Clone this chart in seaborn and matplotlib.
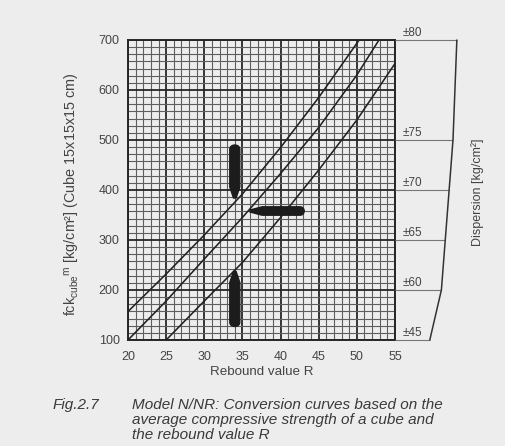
import numpy as np
import pandas as pd
import matplotlib
matplotlib.use("Agg")
import matplotlib.pyplot as plt
import seaborn as sns

# ---------------- data ----------------
rebound_upper = [20, 25, 30, 35, 40, 45, 50.3]
strength_upper = [157, 232, 310, 392, 485, 585, 700]

rebound_middle = [20, 25, 30, 35, 40, 45, 50, 52.9]
strength_middle = [100, 178, 262, 345, 433, 525, 630, 700]

rebound_lower = [25, 30, 35, 40, 45, 50, 55]
strength_lower = [100, 178, 255, 345, 440, 540, 653]

x_ticks = [20, 25, 30, 35, 40, 45, 50, 55]
y_ticks = [100, 200, 300, 400, 500, 600, 700]

dispersion_levels = [700, 500, 400, 300, 200, 100]
dispersion_values = [80, 75, 70, 65, 60, 45]
dispersion_labels = ["±80", "±75", "±70", "±65", "±60", "±45"]

# reading pointers: vertical (rebound, tip strength, end strength)
pointer_vertical_R = [34, 34]
pointer_vertical_tip = [384, 237]
pointer_vertical_end = [490, 127]
# horizontal (strength, tip rebound, end rebound)
pointer_horizontal_f = [358]
pointer_horizontal_tip = [36.0]
pointer_horizontal_end = [43.1]

caption_num = "Fig.2.7"
caption_lines = ["Model N/NR: Conversion curves based on the",
                 "average compressive strength of a cube and",
                 "the rebound value R"]

# ---------------- style ----------------
sns.set_style("white")
BG = "#ededed"
plt.rcParams["font.family"] = ["Liberation Sans", "DejaVu Sans"]
plt.rcParams["mathtext.fontset"] = "custom"
plt.rcParams["mathtext.rm"] = "Liberation Sans"
plt.rcParams["mathtext.it"] = "Liberation Sans:italic"
TXT = "#3a3a3a"
LBL = "#444444"

W, H = 505, 446
fig = plt.figure(figsize=(W / 100, H / 100), dpi=100, facecolor=BG)

L, R_, T, B = 128, 395, 40, 340
ax = fig.add_axes([L / W, 1 - B / H, (R_ - L) / W, (B - T) / H])
ax.set_facecolor(BG)

df = pd.concat([
    pd.DataFrame({"R": rebound_upper, "fck": strength_upper, "curve": "upper"}),
    pd.DataFrame({"R": rebound_middle, "fck": strength_middle, "curve": "middle"}),
    pd.DataFrame({"R": rebound_lower, "fck": strength_lower, "curve": "lower"}),
])
sns.lineplot(data=df, x="R", y="fck", hue="curve", units="curve", estimator=None,
             sort=False, palette={"upper": "#222222", "middle": "#222222", "lower": "#222222"},
             linewidth=1.15, legend=False, ax=ax, zorder=3)

ax.set_xlim(20, 55)
ax.set_ylim(100, 700)
ax.set_xticks(x_ticks)
ax.set_yticks(y_ticks)
ax.set_xticks(np.arange(20, 56, 1), minor=True)
ax.set_yticks(np.linspace(100, 700, 43), minor=True)
ax.grid(which="minor", color="#5e5e5e", linewidth=0.8)
ax.grid(which="major", color="#262626", linewidth=1.3)
ax.set_axisbelow(True)
for s in ax.spines.values():
    s.set_color("#262626")
    s.set_linewidth(1.4)
ax.tick_params(which="both", length=0, labelsize=9, labelcolor=LBL)
ax.tick_params(axis="y", pad=6)
ax.tick_params(axis="x", pad=8)

ax.set_xlabel("Rebound value R", fontsize=9.6, color=LBL)
ax.xaxis.set_label_coords((261.5 - L) / (R_ - L), (B - 366) / (B - T))
ax.set_ylabel(r"fck$_{\mathrm{cube}}{}^{\mathrm{m}}$ [kg/cm²] (Cube 15x15x15 cm)",
              fontsize=10.4, color=LBL)
ax.yaxis.set_label_coords((82 - L) / (R_ - L), (B - 194) / (B - T))

# pointers
rpp = 35 / (R_ - L)       # rebound units per pixel
fpp = 600 / (B - T)       # strength units per pixel


def vertical_pointer(x0, tip, end):
    d = 1 if end > tip else -1
    hw, tw, taper, cap = 5.0, 1.3, 11.0, 4.0
    xs, ys = [], []
    xs += [x0 - tw * rpp, x0 + tw * rpp, x0 + hw * rpp]
    ys += [tip, tip, tip + d * taper * fpp]
    ang = np.linspace(0, np.pi, 12)
    for a in ang:
        xs.append(x0 + hw * np.cos(a) * rpp)
        ys.append(end - d * cap * fpp + d * cap * np.sin(a) * fpp)
    xs.append(x0 - hw * rpp)
    ys.append(tip + d * taper * fpp)
    return xs, ys


def horizontal_pointer(y0, tip, end):
    hh, th, taper, cap = 4.2, 1.0, 12.0, 4.0
    xs = [tip, tip, tip + taper * rpp]
    ys = [y0 - th * fpp, y0 + th * fpp, y0 + hh * fpp]
    ang = np.linspace(np.pi / 2, -np.pi / 2, 12)
    for a in ang:
        xs.append(end - cap * rpp + cap * np.cos(a) * rpp)
        ys.append(y0 + hh * np.sin(a) * fpp)
    xs.append(tip + taper * rpp)
    ys.append(y0 - hh * fpp)
    return xs, ys


for x0, t, e in zip(pointer_vertical_R, pointer_vertical_tip, pointer_vertical_end):
    xs, ys = vertical_pointer(x0, t, e)
    ax.fill(xs, ys, color="#1c1c1c", zorder=4)
for y0, t, e in zip(pointer_horizontal_f, pointer_horizontal_tip, pointer_horizontal_end):
    xs, ys = horizontal_pointer(y0, t, e)
    ax.fill(xs, ys, color="#1c1c1c", zorder=4)

# dispersion panel
ax2 = fig.add_axes([R_ / W, 1 - B / H, 75 / W, (B - T) / H])
ax2.set_xlim(0, 97)
ax2.set_ylim(100, 700)
ax2.axis("off")
ax2.hlines(dispersion_levels, 0, dispersion_values, color="#777777", linewidth=0.8,
           clip_on=False)
ax2.plot(dispersion_values, dispersion_levels, color="#333333", linewidth=1.1,
         clip_on=False)
for lvl, lab in zip(dispersion_levels, dispersion_labels):
    ax2.text(10.5, lvl + 7, lab, fontsize=8.5, color=LBL, va="baseline",
             ha="left", clip_on=False)
ax2.text(107, 396, "Dispersion [kg/cm²]", rotation=90, fontsize=9, color=LBL,
         ha="center", va="center", clip_on=False)

# caption
fig.text(53 / W, 1 - 405 / H, caption_num, fontsize=11, style="italic", color=TXT,
         ha="left", va="center")
for i, line in enumerate(caption_lines):
    fig.text(132 / W, 1 - (405 + 15 * i) / H, line, fontsize=11, style="italic",
             color=TXT, ha="left", va="center")

fig.savefig("out.png", dpi=100, facecolor=BG)
